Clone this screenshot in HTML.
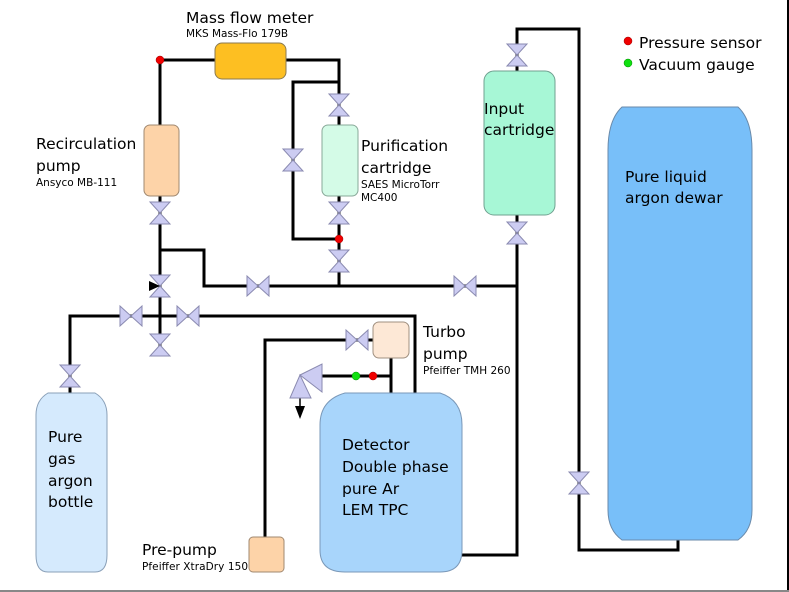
<!DOCTYPE html>
<html><head><meta charset="utf-8"><style>
body{margin:0;background:#fff}
svg{display:block;font-family:"DejaVu Sans","Liberation Sans",sans-serif}
</style></head><body>
<svg width="789" height="592" viewBox="0 0 789 592" xmlns="http://www.w3.org/2000/svg">
<defs>
<g id="vv"><polygon points="-10,-11 10,-11 0,0" fill="#ccccf2" stroke="#8a8ab0" stroke-width="1"/><polygon points="-10,11 10,11 0,0" fill="#ccccf2" stroke="#8a8ab0" stroke-width="1"/></g>
<g id="hv"><polygon points="-11,-10 -11,10 0,0" fill="#ccccf2" stroke="#8a8ab0" stroke-width="1"/><polygon points="11,-10 11,10 0,0" fill="#ccccf2" stroke="#8a8ab0" stroke-width="1"/></g>
</defs>
<g fill="none" stroke="#000" stroke-width="3">
<polyline points="160,60 215,60"/>
<polyline points="286,60 339,60 339,286"/>
<polyline points="339,82 293,82 293,239 339,239"/>
<polyline points="160,60 160,352"/>
<polyline points="160,250 204,250 204,286 517,286"/>
<polyline points="70,395 70,316 415,316 415,393"/>
<polyline points="265,538 265,340 373,340"/>
<polyline points="391,358 391,393"/>
<polyline points="320,376 391,376"/>
<polyline points="462,555 517,555 517,215"/>
<polyline points="517,71 517,29 579,29 579,550 678,550 678,540"/>
<line x1="300" y1="398" x2="300" y2="408" stroke-width="1.5"/>
</g>
<polygon points="295,406 305,406 300,419" fill="#000"/>
<line x1="788" y1="0" x2="788" y2="592" stroke="#000" stroke-width="2"/>
<line x1="0" y1="591" x2="789" y2="591" stroke="#888" stroke-width="2"/>
<rect x="215" y="43" width="71" height="36" rx="7" fill="#fdbf22" stroke="#8a7a50"/>
<rect x="144" y="125" width="35" height="71" rx="6" fill="#fdd3a8" stroke="#a08870"/>
<rect x="322" y="125" width="36" height="71" rx="6" fill="#d4fbe7" stroke="#88a898"/>
<rect x="484" y="71" width="71" height="144" rx="10" fill="#a7f7d6" stroke="#70a090"/>
<path d="M628,107 L738,107 Q752,120 752,150 L752,510 Q752,530 738,540 L622,540 Q608,530 608,510 L608,150 Q608,120 622,107 Z" fill="#78bff9" stroke="#6a8aaa"/>
<path d="M48,393 L95,393 Q107,400 107,415 L107,555 Q107,572 95,572 L48,572 Q36,572 36,555 L36,415 Q36,400 48,393 Z" fill="#d5eafd" stroke="#8aa0b8"/>
<path d="M345,393 L440,393 Q462,400 462,425 L462,550 Q462,572 440,572 L345,572 Q320,572 320,550 L320,425 Q320,400 345,393 Z" fill="#a8d5fb" stroke="#7a98b8"/>
<rect x="373" y="322" width="36" height="36" rx="6" fill="#fde8d6" stroke="#a09080"/>
<rect x="249" y="537" width="35" height="35" rx="4" fill="#fdd3a8" stroke="#a08870"/>
<use href="#vv" x="160" y="213"/>
<use href="#vv" x="293" y="160"/>
<use href="#vv" x="339" y="105"/>
<use href="#vv" x="339" y="213"/>
<use href="#vv" x="339" y="261"/>
<use href="#vv" x="160" y="286"/>
<use href="#vv" x="160" y="345"/>
<use href="#vv" x="70" y="376"/>
<use href="#vv" x="517" y="55"/>
<use href="#vv" x="517" y="233"/>
<use href="#vv" x="579" y="483"/>
<use href="#hv" x="258" y="286"/>
<use href="#hv" x="465" y="286"/>
<use href="#hv" x="131" y="316"/>
<use href="#hv" x="188" y="316"/>
<use href="#hv" x="357" y="340"/>
<polygon points="149,281 160,286 149,291" fill="#000"/>
<polygon points="300,375 322,364 322,392" fill="#ccccf2" stroke="#8a8ab0"/>
<polygon points="300,375 290,398 311,398" fill="#ccccf2" stroke="#8a8ab0"/>
<circle cx="160" cy="60" r="4" fill="#f00000" stroke="#900" stroke-width="0.5"/>
<circle cx="339" cy="239" r="4" fill="#f00000" stroke="#900" stroke-width="0.5"/>
<circle cx="356" cy="376" r="4" fill="#10e010" stroke="#080" stroke-width="0.5"/>
<circle cx="373" cy="376" r="4" fill="#f00000" stroke="#900" stroke-width="0.5"/>
<circle cx="628" cy="41" r="4" fill="#f00000" stroke="#900" stroke-width="0.5"/>
<circle cx="628" cy="63" r="4" fill="#10e010" stroke="#080" stroke-width="0.5"/>
<g fill="#000" font-size="15.5">
<text x="186" y="23">Mass flow meter</text>
<text x="36" y="149">Recirculation</text>
<text x="36" y="171">pump</text>
<text x="361" y="151">Purification</text>
<text x="361" y="173">cartridge</text>
<text x="484" y="114">Input</text>
<text x="484" y="135">cartridge</text>
<text x="625" y="182">Pure liquid</text>
<text x="625" y="203">argon dewar</text>
<text x="639" y="48">Pressure sensor</text>
<text x="639" y="70">Vacuum gauge</text>
<text x="423" y="337">Turbo</text>
<text x="423" y="359">pump</text>
<text x="48" y="442">Pure</text>
<text x="48" y="464">gas</text>
<text x="48" y="486">argon</text>
<text x="48" y="507">bottle</text>
<text x="342" y="450">Detector</text>
<text x="342" y="472">Double phase</text>
<text x="342" y="494">pure Ar</text>
<text x="342" y="515">LEM TPC</text>
<text x="142" y="555">Pre-pump</text>
</g>
<g fill="#000" font-size="10.5">
<text x="186" y="37">MKS Mass-Flo 179B</text>
<text x="36" y="186">Ansyco MB-111</text>
<text x="361" y="188">SAES MicroTorr</text>
<text x="361" y="201">MC400</text>
<text x="423" y="374">Pfeiffer TMH 260</text>
<text x="142" y="570" textLength="106">Pfeiffer XtraDry 150</text>
</g>
</svg>
</body></html>
